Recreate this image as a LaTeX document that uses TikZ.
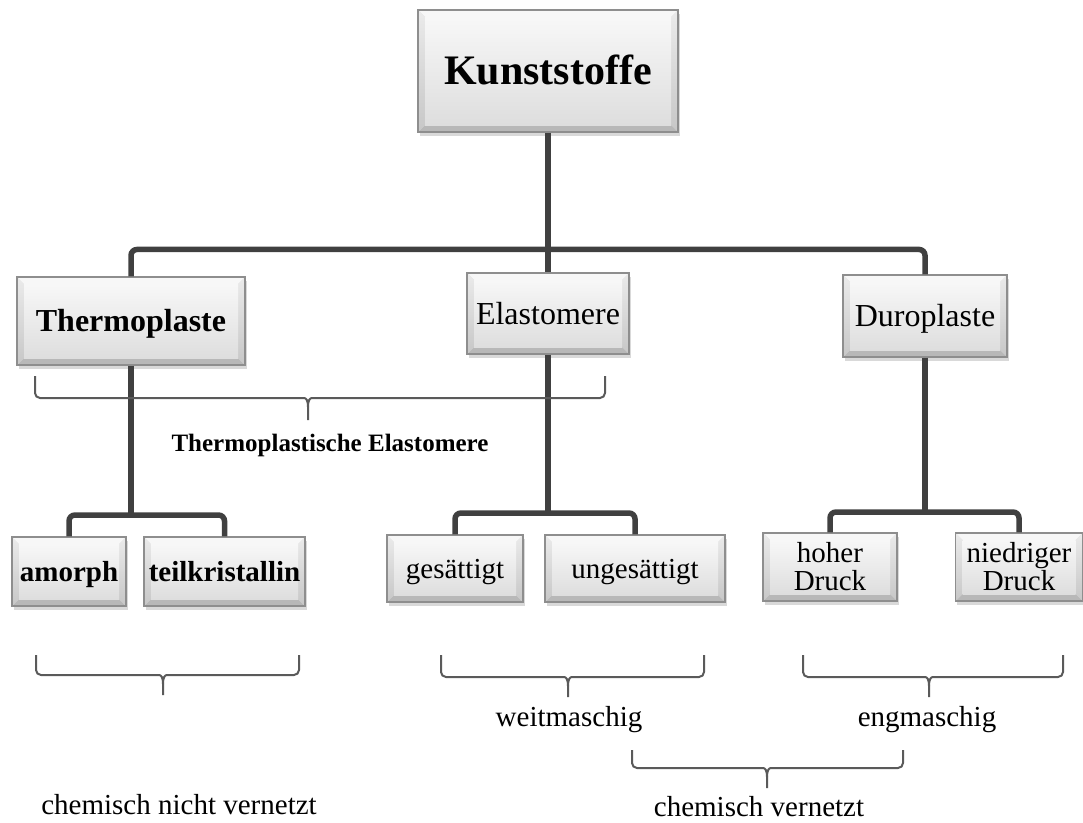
\documentclass[tikz,border=0pt]{standalone}
\usepackage{fontspec}
\setmainfont{Liberation Serif}
\usetikzlibrary{shadows,calc}
\definecolor{conncol}{HTML}{404040}
\definecolor{bracecol}{HTML}{5A5A5A}
\definecolor{edgecol}{HTML}{8E8E8E}
\newcommand\mybrace[6]{%
  \draw[bracestyle] (#1,#4) [rounded corners=5pt] -- (#1,#5) -- (#3-9,#5) [sharp corners] .. controls (#3-2,#5) and (#3,#5+2) .. (#3,#5+9) -- (#3,#6);
  \draw[bracestyle] (#2,#4) [rounded corners=5pt] -- (#2,#5) -- (#3+9,#5) [sharp corners] .. controls (#3+2,#5) and (#3,#5+2) .. (#3,#5+9);
}
\tikzset{
  box/.style={draw=edgecol, line width=1.1pt, inner sep=0pt, align=center,
    fill=white!85!black,
    drop shadow={opacity=0.3, shadow xshift=1.5pt, shadow yshift=-4pt},
    path picture={
      \coordinate (ppa) at (path picture bounding box.north west);
      \coordinate (ppb) at (path picture bounding box.north east);
      \coordinate (ppc) at (path picture bounding box.south east);
      \coordinate (ppd) at (path picture bounding box.south west);
      \coordinate (ppa1) at ([xshift=7pt,yshift=-7pt]ppa);
      \coordinate (ppb1) at ([xshift=-7pt,yshift=-7pt]ppb);
      \coordinate (ppc1) at ([xshift=-7pt,yshift=7pt]ppc);
      \coordinate (ppd1) at ([xshift=7pt,yshift=7pt]ppd);
      \fill[white!97!black] (ppa) -- (ppb) -- (ppb1) -- (ppa1) -- cycle;
      \fill[white!72!black] (ppd) -- (ppc) -- (ppc1) -- (ppd1) -- cycle;
      \shade[top color=white!92!black, bottom color=white!78!black] (ppa) -- (ppa1) -- (ppd1) -- (ppd) -- cycle;
      \shade[top color=white!92!black, bottom color=white!78!black] (ppb) -- (ppb1) -- (ppc1) -- (ppc) -- cycle;
      \shade[top color=white!97!black, bottom color=white!87!black] (ppa1) rectangle (ppc1);
    }},
  conn/.style={draw=conncol, line width=5.5pt, rounded corners=6pt},
  bracestyle/.style={draw=bracecol, line width=2pt},
  fK/.style={font=\fontsize{42}{48}\selectfont\bfseries, text height=27.7pt, text depth=0pt},
  fLb/.style={font=\fontsize{32}{36}\selectfont\bfseries, text height=21.2pt, text depth=0pt},
  fL/.style={font=\fontsize{32}{36}\selectfont, text height=21.2pt, text depth=0pt},
  fSb/.style={font=\fontsize{29}{32}\selectfont\bfseries, text height=19.2pt, text depth=0pt},
  fS/.style={font=\fontsize{29}{28}\selectfont, text height=19.2pt, text depth=0pt},
  fS2/.style={font=\fontsize{29}{28}\selectfont},
  lbl/.style={inner sep=0pt, font=\fontsize{29}{32}\selectfont},
}
\begin{document}
\begin{tikzpicture}[x=1pt,y=-1pt]
\useasboundingbox (0,0) rectangle (1083,822);
% boxes
\node[box,fK,minimum width=260pt,minimum height=122pt] (K) at (548,71) {Kunststoffe};
\node[box,fLb,minimum width=228pt,minimum height=88pt] (T) at (131,321) {Thermoplaste};
\node[box,fL,minimum width=162pt,minimum height=81pt] (E) at (548,313.5) {Elastomere};
\node[box,fL,minimum width=164pt,minimum height=82pt] (D) at (925,316) {Duroplaste};
\node[box,fSb,minimum width=114pt,minimum height=69pt] (am) at (69,571.5) {amorph};
\node[box,fSb,minimum width=161pt,minimum height=69pt] (tk) at (224.5,571.5) {teilkristallin};
\node[box,fS,minimum width=136pt,minimum height=67pt] (ges) at (455,568.5) {gesättigt};
\node[box,fS,minimum width=180pt,minimum height=67pt] (unges) at (635,568.5) {ungesättigt};
\node[box,fS2,minimum width=134pt,minimum height=68pt] (hoch) at (830,567) {hoher\\Druck};
\node[box,fS2,minimum width=127pt,minimum height=68pt] (nied) at (1019,567) {niedriger\\Druck};
% junction coordinates
\coordinate (Tsplit) at (131,515);
\coordinate (Esplit) at (548,513);
\coordinate (Dsplit) at (925,512);
% connectors
\draw[conn] (K.south) -- (E.north);
\draw[conn] (T.north) -- ++(0,-27) -| (D.north);
\draw[conn] (T.south) -- (Tsplit);
\draw[conn] (am.north) |- (Tsplit) -| (tk.north);
\draw[conn] (E.south) -- (Esplit);
\draw[conn] (ges.north) |- (Esplit) -| (unges.north);
\draw[conn] (D.south) -- (Dsplit);
\draw[conn] (hoch.north) |- (Dsplit) -| (nied.north);
% braces
\mybrace{35}{605}{308}{376}{398}{420}
\mybrace{36}{299}{163}{655}{675}{695}
\mybrace{441}{704}{568}{655}{677}{697}
\mybrace{803}{1063}{929}{655}{677}{697}
\mybrace{632}{903}{767}{750}{768}{788}
% labels
\node[lbl,font=\fontsize{25}{28}\selectfont\bfseries] (tpe) at (330,445) {Thermoplastische Elastomere};
\node[lbl] (cnv) at (179,805) {chemisch nicht vernetzt};
\node[lbl] (weit) at (569,720) {weitmaschig};
\node[lbl] (eng) at (927,720) {engmaschig};
\node[lbl] (cv) at (759,807) {chemisch vernetzt};
\end{tikzpicture}
\end{document}
